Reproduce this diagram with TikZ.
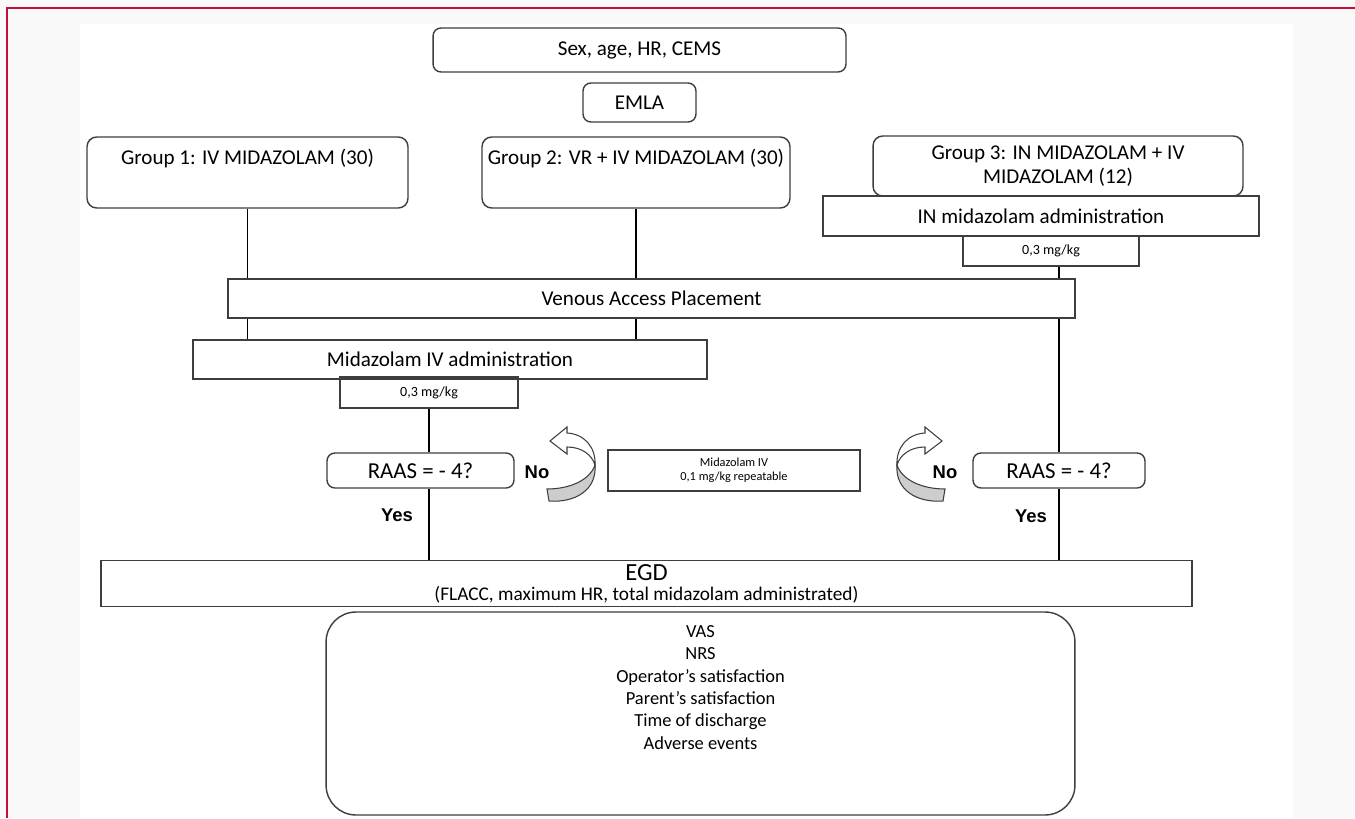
\documentclass[tikz,border=0pt]{standalone}
\usepackage{fontspec}
\setmainfont{Carlito}
\newfontfamily\labfont{Liberation Sans}
\usetikzlibrary{positioning}
\definecolor{frameRed}{RGB}{196,14,62}
\definecolor{paperGray}{RGB}{250,249,250}
\definecolor{edgeGray}{RGB}{62,62,62}
\definecolor{ribbonGray}{RGB}{205,205,205}

\begin{document}
\begin{tikzpicture}[x=0.02cm,y=-0.02cm,font=\fontsize{12}{14}\selectfont,
      rb/.style={draw=edgeGray,line width=0.8pt,rounded corners=4.5pt,align=center,inner sep=2pt},
      sq/.style={draw=edgeGray,line width=0.8pt,align=center,inner sep=2pt},
      sm/.style={sq,font=\fontsize{8}{9.5}\selectfont},
      grp/.style={rb,rounded corners=5.5pt,minimum height=1.42cm,text height=0.25cm,text depth=0.57cm},
      lab/.style={font=\labfont\bfseries\fontsize{10.5}{12}\selectfont},
      ln/.style={line width=0.7pt},
      curl/.pic={
        \filldraw[fill=ribbonGray,draw=edgeGray,line width=0.6pt] (-24,21) .. controls (-1,21) and (19,12) .. (24,-3)
          .. controls (26,22) and (4,35) .. (-22,33) -- cycle;
        \filldraw[fill=white,draw=edgeGray,line width=0.6pt] (24,-3) .. controls (25,-20) and (14,-34) .. (-4,-35)
          -- (-4,-41) -- (-21,-27) -- (-4,-14) -- (-4,-21) .. controls (11,-21) and (21,-13) .. (24,-3) -- cycle;
      }]
      \useasboundingbox (0,0) rectangle (1355,818);
      \fill[paperGray] (0,0) rectangle (1355,818);
      \fill[white] (80,24) rectangle (1293,818);
      \draw[frameRed,line width=1.1pt] (7,818) -- (7,8) -- (1355,8);

      % top of the flow
      \node[rb,minimum width=8.26cm,minimum height=0.88cm] (base) at (639.5,50) {Sex, age, HR, CEMS};
      \node[rb,minimum width=2.26cm,minimum height=0.78cm] (emla) at (639.5,102.5) {EMLA};
      \node[grp,minimum width=6.42cm] (g1) at (247.5,172.5) {Group 1: IV MIDAZOLAM (30)};
      \node[grp,minimum width=6.16cm] (g2) at (636,172.5) {Group 2: VR + IV MIDAZOLAM (30)};
      \node[rb,rounded corners=5.5pt,minimum width=7.4cm,minimum height=1.2cm] (g3) at (1058,166) {Group 3: IN MIDAZOLAM + IV\\MIDAZOLAM (12)};
      \node[sq,minimum width=8.72cm,minimum height=0.8cm] (inadm) at (1041,216) {IN midazolam administration};
      \node[sm,minimum width=3.52cm,minimum height=0.6cm] (dose3) at (1051,251) {0,3 mg/kg};
      \node[sq,minimum width=16.94cm,minimum height=0.78cm] (venous) at (651.5,298.5) {Venous Access Placement};
      \node[sq,minimum width=10.28cm,minimum height=0.78cm] (ivadm) at (450,359.5) {Midazolam IV administration};
      \node[sm,minimum width=3.56cm,minimum height=0.62cm] (dose1) at (429,392.5) {0,3 mg/kg};

      % sedation check
      \node[rb,font=\fontsize{13}{15}\selectfont,minimum width=3.74cm,minimum height=0.7cm] (raas1) at (420.5,470.5) {RAAS = - 4?};
      \node[sm,font=\fontsize{7}{8}\selectfont,minimum width=5.04cm,minimum height=0.82cm] (rep) at (734,470.5) {Midazolam IV\\0,1 mg/kg repeatable};
      \node[rb,font=\fontsize{13}{15}\selectfont,minimum width=3.44cm,minimum height=0.7cm] (raas2) at (1059,470.5) {RAAS = - 4?};
      \node[lab] (no1) at (537,472) {No};
      \node[lab] (no2) at (945,472) {No};
      \node[lab] (yes1) at (397,515) {Yes};
      \node[lab] (yes2) at (1031,516) {Yes};
      \pic (curlL) at (571,468) {curl};
      \pic[xscale=-1] (curlR) at (921,468) {curl};

      % procedure and outcomes
      \node[sq,font=\fontsize{11}{12}\selectfont,minimum width=21.82cm,minimum height=0.86cm] (egd) at (646.5,583.5)
        {{\fontsize{14}{14}\selectfont EGD}\\[-0.5pt](FLACC, maximum HR, total midazolam administrated)};
      \node[rb,font=\fontsize{10.5}{12.7}\selectfont,rounded corners=17pt,minimum width=14.98cm,minimum height=4.06cm,
        text height=2.45cm,text depth=1.03cm,inner ysep=0.29cm] (out) at (700.5,713.5)
        {VAS\\NRS\\Operator’s satisfaction\\Parent’s satisfaction\\Time of discharge\\Adverse events};

      \draw[ln] (g1.south) -- (g1.south |- venous.north);
      \draw[ln] (g2.south) -- (g2.south |- venous.north);
      \draw[ln] (g1.south |- venous.south) -- (g1.south |- ivadm.north);
      \draw[ln] (g2.south |- venous.south) -- (g2.south |- ivadm.north);
      \draw[ln] (dose1.south) -- (dose1.south |- raas1.north);
      \draw[ln] (dose1.south |- raas1.south) -- (dose1.south |- egd.north);
      \draw[ln] (raas2.north |- dose3.south) -- (raas2.north |- venous.north);
      \draw[ln] (raas2.north |- venous.south) -- (raas2.north);
      \draw[ln] (raas2.south) -- (raas2.south |- egd.north);
\end{tikzpicture}
\end{document}
